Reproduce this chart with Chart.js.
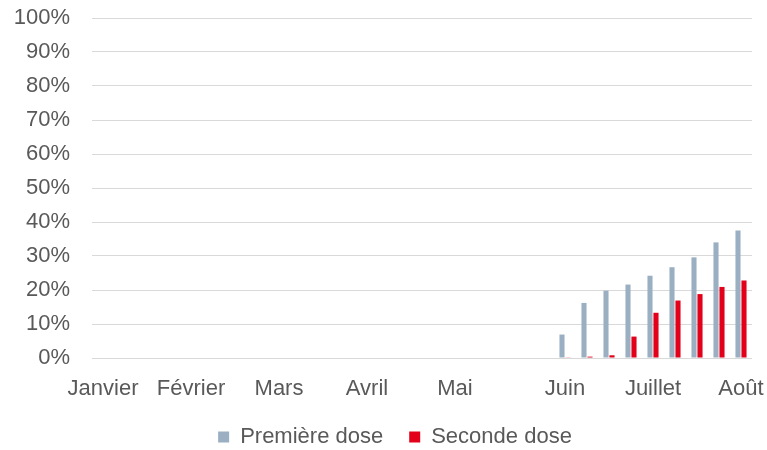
<!DOCTYPE html>
<html>
<head>
<meta charset="utf-8">
<script src="https://cdn.jsdelivr.net/npm/chart.js@4/dist/chart.umd.min.js"></script>
<style>
  html, body { margin: 0; padding: 0; background: #fff; }
  #wrap { width: 767px; height: 450px; }
</style>
</head>
<body>
<div id="wrap"><canvas id="vaccChart"></canvas></div>
<script>
// one category per week, month names only on the first week of each month
const weekLabels = ['Janvier', '', '', '', 'Février', '', '', '', 'Mars', '', '', '', 'Avril', '', '', '',
    'Mai', '', '', '', '', 'Juin', '', '', '', 'Juillet', '', '', '', 'Août'];
const premiereDose = [null, null, null, null, null, null, null, null, null, null, null, null, null, null, null, null,
    null, null, null, null, null, 6.9, 16.2, 19.8, 21.6, 24.2, 26.7, 29.6, 34.0, 37.5];
const secondeDose = [null, null, null, null, null, null, null, null, null, null, null, null, null, null, null, null,
    null, null, null, null, null, 0.1, 0.4, 0.8, 6.3, 13.3, 16.9, 18.8, 20.9, 22.8];

const txtColor = '#595959';
const gridColor = '#d9d9d9';
const noColor = 'rgba(0,0,0,0)';
Chart.defaults.font.family = '"Liberation Sans", Arial, sans-serif';
Chart.defaults.font.size = 22;
Chart.defaults.color = txtColor;

// legend sits a little right of centre in the original
const shiftLegend = {
    id: 'shiftLegend',
    afterLayout(chart) {
        chart.legend.left += 19;
        chart.legend.right += 19;
    }
};

const ctx = document.getElementById('vaccChart').getContext('2d');
const vaccChart = new Chart(ctx, {
    type: 'bar',
    data: {
        labels: weekLabels,
        datasets: [
            {
                label: 'Première dose',
                data: premiereDose,
                backgroundColor: '#9aafc1',
                categoryPercentage: 0.545,
                barPercentage: 0.85
            },
            {
                label: 'Seconde dose',
                data: secondeDose,
                backgroundColor: '#e3001b',
                categoryPercentage: 0.545,
                barPercentage: 0.85
            }
        ]
    },
    options: {
        responsive: true,
        maintainAspectRatio: false,
        animation: false,
        layout: { padding: { top: 18, right: 15, left: 0, bottom: -8 } },
        scales: {
            x: {
                // invisible tick marks keep the labels away from the axis
                grid: { color: noColor, tickColor: noColor, drawTicks: true, tickLength: 20 },
                border: { display: false },
                ticks: { autoSkip: false, maxRotation: 0, padding: 0, color: txtColor, font: { lineHeight: 1 } }
            },
            y: {
                min: 0,
                max: 100,
                grid: { color: gridColor, lineWidth: 1, drawTicks: true, tickLength: 22, tickColor: noColor },
                border: { display: false },
                ticks: {
                    stepSize: 10,
                    padding: 0,
                    color: txtColor,
                    callback: v => v + '%'
                },
                afterFit: scale => { scale.width = 92; }
            }
        },
        plugins: {
            legend: {
                position: 'bottom',
                labels: { boxWidth: 11, boxHeight: 11, padding: 26, color: txtColor }
            },
            tooltip: { enabled: false }
        }
    },
    plugins: [shiftLegend]
});
</script>
</body>
</html>
